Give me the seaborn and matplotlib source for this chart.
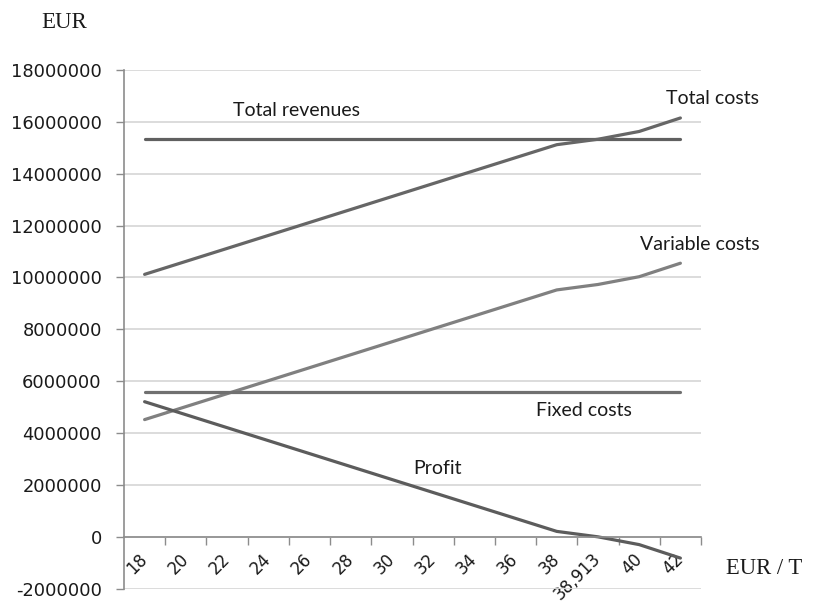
import matplotlib
matplotlib.use("Agg")
import matplotlib.pyplot as plt
import seaborn as sns
import pandas as pd
import numpy as np

# ---- data ----
categories = ["18", "20", "22", "24", "26", "28", "30", "32", "34", "36", "38", "38,913", "40", "42"]
total_revenues = [15330000] * 14
total_costs = [10120000, 10620000, 11120000, 11620000, 12120000, 12620000, 13120000,
               13620000, 14120000, 14620000, 15120000, 15330000, 15630000, 16150000]
variable_costs = [4520000, 5020000, 5520000, 6020000, 6520000, 7020000, 7520000,
                  8020000, 8520000, 9020000, 9520000, 9730000, 10030000, 10550000]
fixed_costs = [5600000] * 14
profit = [5210000, 4710000, 4210000, 3710000, 3210000, 2710000, 2210000,
          1710000, 1210000, 710000, 210000, 0, -300000, -820000]
y_ticks = list(range(-2000000, 18000001, 2000000))

series = {
    "Total revenues": total_revenues,
    "Total costs": total_costs,
    "Variable costs": variable_costs,
    "Fixed costs": fixed_costs,
    "Profit": profit,
}
rows = []
for name, vals in series.items():
    for c, v in zip(categories, vals):
        rows.append({"price": c, "value": v, "series": name})
df = pd.DataFrame(rows)

palette = {
    "Total revenues": "#606060",
    "Total costs": "#666666",
    "Variable costs": "#808080",
    "Fixed costs": "#707070",
    "Profit": "#5c5c5c",
}

sns.set_theme(style="white")
plt.rcParams["font.family"] = ["DejaVu Sans"]

fig = plt.figure(figsize=(8.13, 6.08), dpi=100)
ax = fig.add_axes([124 / 813, 1 - 588.7 / 608, (701 - 124) / 813, (588.7 - 70) / 608])

sns.lineplot(data=df, x="price", y="value", hue="series", palette=palette,
             sort=False, linewidth=2.3, legend=False, ax=ax)

ax.set_xlim(-0.5, len(categories) - 0.5)
ax.set_ylim(-2000000, 18000000)
ax.set_yticks(y_ticks)
ax.set_yticklabels([str(t) for t in y_ticks])
ax.yaxis.grid(True, color="#d9d9d9", linewidth=1.3)
ax.set_axisbelow(True)
ax.set_xlabel("")
ax.set_ylabel("")

for s in ["top", "right"]:
    ax.spines[s].set_visible(False)
ax.spines["left"].set_color("#8c8c8c")
ax.spines["left"].set_linewidth(1.2)
ax.spines["bottom"].set_position(("data", 0))
ax.spines["bottom"].set_color("#8c8c8c")
ax.spines["bottom"].set_linewidth(1.2)

ax.tick_params(axis="y", left=True, length=5.5, width=1.0, color="#8c8c8c",
               labelsize=12.9, pad=10.5, labelcolor="#1a1a1a")

ax.set_xticks(range(len(categories)))
ax.set_xticklabels(categories, rotation=45, ha="right", va="center",
                   rotation_mode="anchor", fontsize=12, color="#1a1a1a")
ax.set_xticks(np.arange(0.5, len(categories), 1.0), minor=True)
ax.tick_params(axis="x", which="major", length=0, pad=14, bottom=True)
ax.tick_params(axis="x", which="minor", length=5.5, width=1.0, color="#8c8c8c", bottom=True)

# annotations
lab_font = dict(family=["Lato", "DejaVu Sans"], fontsize=14, color="#1a1a1a",
                ha="center", va="center")
fig.text(296 / 813, 1 - 110 / 608, "Total revenues", **lab_font)
fig.text(712 / 813, 1 - 98 / 608, "Total costs", **lab_font)
fig.text(700 / 813, 1 - 244 / 608, "Variable costs", **lab_font)
fig.text(584 / 813, 1 - 410 / 608, "Fixed costs", **lab_font)
fig.text(437 / 813, 1 - 468 / 608, "Profit", **lab_font)

fig.text(64 / 813, 1 - 22 / 608, "EUR", family=["Liberation Serif"], fontsize=16.5,
         color="#1a1a1a", ha="center", va="center")
fig.text(764 / 813, 1 - 568 / 608, "EUR / T", family=["Liberation Serif"], fontsize=16.3,
         color="#1a1a1a", ha="center", va="center")

fig.savefig("out.png", dpi=100)
